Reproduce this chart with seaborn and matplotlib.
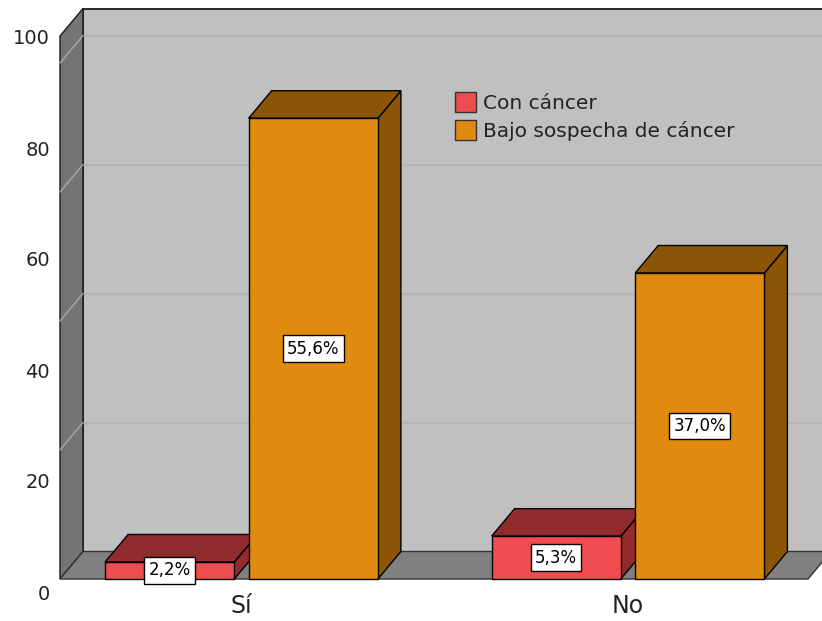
import numpy as np
import pandas as pd
import matplotlib
matplotlib.use("Agg")
import matplotlib.pyplot as plt
from matplotlib.patches import Polygon, Rectangle
import seaborn as sns

# ── Data ────────────────────────────────────────────────────────────────────
categories     = ["Sí", "No"]
groups         = ["Con cáncer", "Bajo sospecha de cáncer"]
con_cancer     = [3.3, 8.3]
bajo_sospecha  = [89.3, 59.3]
pct_con        = ["2,2%", "5,3%"]
pct_bajo       = ["55,6%", "37,0%"]
grid_values    = [25, 50, 75, 100]
tick_values    = [0, 20, 40, 60, 80, 100]

# ── Style ───────────────────────────────────────────────────────────────────
FRONT = {"Con cáncer": "#EE4C4F", "Bajo sospecha de cáncer": "#E08A0F"}
DARK  = {"Con cáncer": "#922B2E", "Bajo sospecha de cáncer": "#8B5508"}
TEXT  = "#222222"

# pixel geometry of the front plane -> data units
PX_X, PX_Y = 386.5, 5.16          # pixels per data unit
X0_PX = 241.5                     # pixel of first category centre
DX, DY = 23 / PX_X, 27.5 / PX_Y   # 3D depth offset
WALL_X   = (60 - X0_PX) / PX_X    # front edge of left wall
FLOOR_X1 = (808 - X0_PX) / PX_X
WALL_TOP = (579 - 36) / PX_Y

sns.set_style("white")
plt.rcParams["font.family"] = ["DejaVu Sans"]

df = pd.DataFrame({
    "cat":   categories * 2,
    "group": [groups[0]] * 2 + [groups[1]] * 2,
    "value": con_cancer + bajo_sospecha,
})
labels = {groups[0]: pct_con, groups[1]: pct_bajo}

fig = plt.figure(figsize=(8.22, 6.21), dpi=100)
ax = fig.add_axes([0, 0, 1, 1])

sns.barplot(data=df, x="cat", y="value", hue="group", order=categories,
            hue_order=groups, palette=FRONT, saturation=1, width=0.743,
            gap=0.10, edgecolor="black", linewidth=1, ax=ax)

ax.set_xlim((0 - X0_PX) / PX_X, (822 - X0_PX) / PX_X)
ax.set_ylim((579 - 621) / PX_Y, 579 / PX_Y)
ax.axis("off")

# ── Walls and floor ─────────────────────────────────────────────────────────
xmax = ax.get_xlim()[1] + 1
ax.add_patch(Rectangle((WALL_X + DX, DY), xmax, WALL_TOP,
                       fc="#C0C0C0", ec="#1a1a1a", lw=1.3, zorder=0.5))
ax.add_patch(Polygon([(WALL_X, 0), (WALL_X, WALL_TOP),
                      (WALL_X + DX, WALL_TOP + DY), (WALL_X + DX, DY)],
                     fc="#747474", ec="#1a1a1a", lw=1, zorder=1))
ax.add_patch(Polygon([(WALL_X, 0), (FLOOR_X1, 0),
                      (FLOOR_X1 + DX, DY), (WALL_X + DX, DY)],
                     fc="#808080", ec="#333333", lw=1, zorder=1))
for v in grid_values:
    ax.plot([WALL_X + DX, xmax], [v + DY, v + DY], color="#B3B3B3",
            lw=1.5, zorder=0.7)
    ax.plot([WALL_X + DX, WALL_X], [v + DY, v], color="#A8A8A8",
            lw=1, zorder=1.2)

# ── 3D faces and value labels ───────────────────────────────────────────────
bars = []
for cont, grp in zip(ax.containers, groups):
    for bar, lab in zip(cont, labels[grp]):
        bars.append((bar, grp, lab))
bars.sort(key=lambda b: b[0].get_x())

for i, (bar, grp, lab) in enumerate(bars):
    x0, w, h = bar.get_x(), bar.get_width(), bar.get_height()
    side = Polygon([(x0 + w, 0), (x0 + w + DX, DY), (x0 + w + DX, h + DY),
                    (x0 + w, h)], fc=DARK[grp], ec="black", lw=1)
    top = Polygon([(x0, h), (x0 + DX, h + DY), (x0 + w + DX, h + DY),
                   (x0 + w, h)], fc=DARK[grp], ec="black", lw=1)
    for poly in (side, top):
        poly.set_zorder(3 + 2 * i)
        ax.add_patch(poly)
    bar.set_zorder(4 + 2 * i)
    ax.text(x0 + w / 2, h / 2, lab, ha="center", va="center", fontsize=12,
            color="black", zorder=20,
            bbox=dict(boxstyle="square,pad=0.25", fc="white", ec="black", lw=1))

# category labels
for i, cat in enumerate(categories):
    ax.text(i, (579 - 606) / PX_Y, cat, ha="center", va="center",
            fontsize=17, color=TEXT)

# legend
handles, labs = ax.get_legend_handles_labels()
leg = ax.legend(handles, labs, loc="upper left",
                bbox_to_anchor=(455 / 822, 1 - 92 / 621), frameon=False,
                fontsize=14.5, handlelength=1.05, handleheight=1.15,
                handletextpad=0.33, labelspacing=0.35, borderpad=0,
                borderaxespad=0)
for t in leg.get_texts():
    t.set_color(TEXT)
for hnd in leg.legend_handles:
    hnd.set_edgecolor("#333333")

# y tick labels (SPSS places them on their own scale)
lab_ax = fig.add_axes([50 / 822, (621 - 592) / 621, 0.001, 555 / 621])
lab_ax.set_ylim(0, 100)
lab_ax.set_yticks(tick_values)
lab_ax.set_yticklabels([str(v) for v in tick_values], fontsize=14, color=TEXT)
lab_ax.tick_params(axis="y", length=0, pad=0)
lab_ax.set_xticks([])
lab_ax.patch.set_alpha(0)
for s in lab_ax.spines.values():
    s.set_visible(False)

fig.savefig("out.png", dpi=100)
